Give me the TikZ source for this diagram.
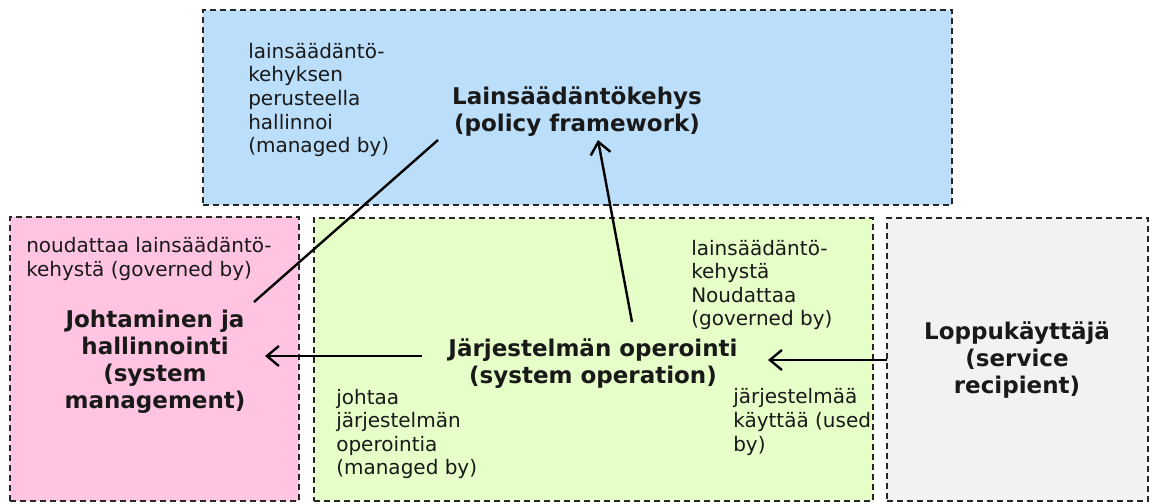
\documentclass[tikz,border=0pt]{standalone}
\usepackage{fontspec}
\setmainfont{DejaVu Sans}
\usetikzlibrary{arrows.meta,fit}
\definecolor{policyblue}{RGB}{187,222,251}
\definecolor{mgmtpink}{RGB}{255,196,226}
\definecolor{opgreen}{RGB}{230,255,200}
\definecolor{usergray}{RGB}{242,242,242}
\begin{document}
\begin{tikzpicture}[x=0.75pt,y=-0.75pt,
  region/.style={draw=black!85, line width=0.8pt, dash pattern=on 4.5pt off 3pt, inner sep=0pt},
  title/.style={font=\fontsize{17.25}{20.3}\selectfont\bfseries, align=center, inner sep=0pt, text=black!90},
  label/.style={font=\fontsize{15}{17.7}\selectfont, align=left, anchor=west, inner sep=0pt, text=black!90},
  link/.style={line width=1.8pt},
  flow/.style={link, -{Straight Barb[length=9pt,width=15pt]}}
]
\useasboundingbox (0,0) rectangle (1155,503);

% regions
\node[region, fill=policyblue, fit={(203,10) (952,205)}] (policybox) {};
\node[region, fill=mgmtpink, fit={(10,217) (299,501)}] (mgmtbox) {};
\node[region, fill=opgreen, fit={(314,218) (873,501)}] (opbox) {};
\node[region, fill=usergray, fit={(887,218) (1148,501)}] (userbox) {};

% titles
\node[title] (policy) at (577,112) {Lainsäädäntökehys\\(policy framework)};
\node[title] (mgmt) at (155,362) {Johtaminen ja\\hallinnointi\\(system\\management)};
\node[title] (op) at (593,364) {Järjestelmän operointi\\(system operation)};
\node[title] (user) at (1017,360) {Loppukäyttäjä\\(service\\recipient)};

% relation labels
\node[label] (lblManagedBy) at (248,100) {lainsäädäntö-\\kehyksen\\perusteella\\hallinnoi\\(managed by)};
\node[label] (lblMgmtGoverned) at (26,259) {noudattaa lainsäädäntö-\\kehystä (governed by)};
\node[label] (lblOpGoverned) at (691,285) {lainsäädäntö-\\kehystä\\Noudattaa\\(governed by)};
\node[label] (lblOpManaged) at (336,434) {johtaa\\järjestelmän\\operointia\\(managed by)};
\node[label] (lblUsedBy) at (733,422) {järjestelmää\\käyttää (used\\by)};

% connector end points
\coordinate (policyLow) at (438,140);
\coordinate (mgmtTop) at (254,302);
\coordinate (opTop) at (632,322);
\coordinate (policyBottom) at (598,140);
\coordinate (opLeft) at (422,356);
\coordinate (mgmtRight) at (265,356);
\coordinate (userLeft) at (887,360);
\coordinate (opRight) at (768,360);

% connectors
\draw[link] (policyLow) -- (mgmtTop);
\draw[flow] (opTop) -- (policyBottom);
\draw[flow] (opLeft) -- (mgmtRight);
\draw[flow] (userLeft) -- (opRight);
\end{tikzpicture}
\end{document}
